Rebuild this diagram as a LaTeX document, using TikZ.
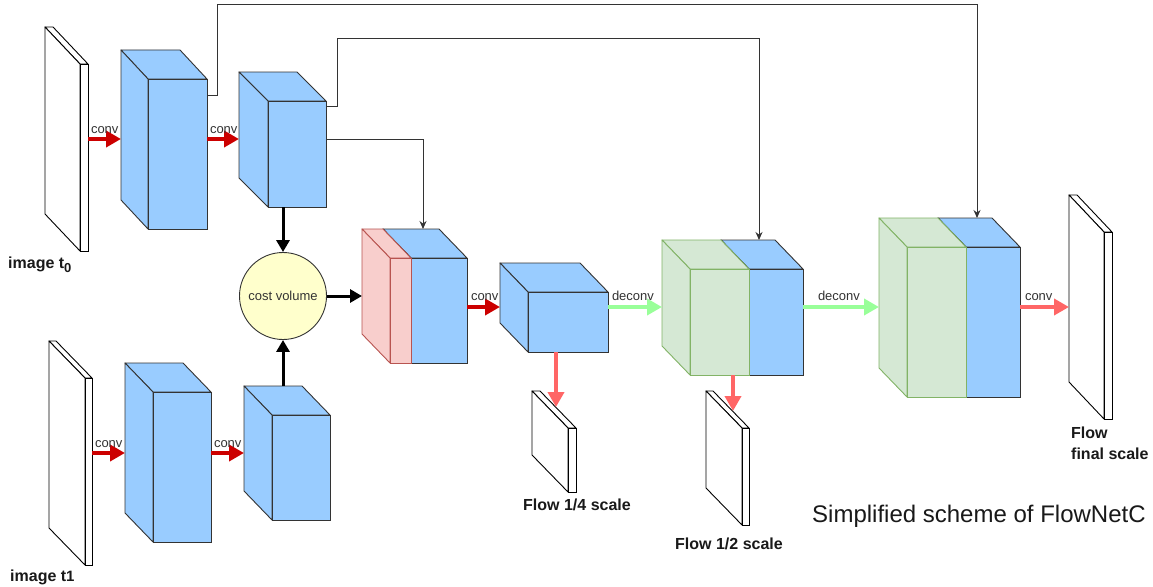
\documentclass[tikz,border=0pt]{standalone}
\usepackage{fontspec}
\setmainfont{Liberation Sans}
\usetikzlibrary{arrows.meta,fit,calc}
\definecolor{blueF}{HTML}{99CCFF}
\definecolor{redF}{HTML}{F8CECC}
\definecolor{redD}{HTML}{B85450}
\definecolor{greenF}{HTML}{D5E8D4}
\definecolor{greenD}{HTML}{82B366}
\definecolor{yellowF}{HTML}{FFFFCC}
\definecolor{convdark}{HTML}{CC0000}
\definecolor{convlight}{HTML}{FF6666}
\definecolor{deconvC}{HTML}{99FF99}
\definecolor{edgeC}{HTML}{333333}
\tikzset{
  bluebox/.style={fill=blueF, draw=edgeC, line width=0.9pt},
  redbox/.style={fill=redF, draw=redD, line width=0.9pt},
  greenbox/.style={fill=greenF, draw=greenD, line width=0.9pt},
  plate/.style={fill=white, draw=black, line width=0.9pt},
  convA/.style={draw=convdark, line width=4pt, -{Triangle[length=15pt,width=16pt]}},
  convB/.style={draw=convlight, line width=4pt, -{Triangle[length=15pt,width=16pt]}},
  deconvA/.style={draw=deconvC, line width=4pt, -{Triangle[length=15pt,width=16pt]}},
  thickA/.style={draw=black, line width=3pt, -{Triangle[length=12pt,width=13pt]}},
  skipA/.style={draw=edgeC, line width=1pt, -{Stealth[length=8pt,width=7pt]}},
  lbl/.style={font=\fontsize{13}{15}\selectfont, text=edgeC, inner sep=0pt, anchor=base west},
  big/.style={font=\bfseries\fontsize{16}{21}\selectfont, text=black!90, inner sep=0pt},
}
% #1 name, #2 style, #3 x1, #4 y1, #5 x2, #6 y2 (front face), #7 dx, #8 dy (depth)
\newcommand\slab[8]{%
  \coordinate (#1-tl) at (#3-#7,#4-#8);
  \coordinate (#1-tr) at (#5-#7,#4-#8);
  \filldraw[#2, line join=round] (#3-#7,#4-#8) -- (#5-#7,#4-#8) -- (#5,#4) -- (#3,#4) -- cycle;
  \filldraw[#2, line join=round] (#3-#7,#4-#8) -- (#3,#4) -- (#3,#6) -- (#3-#7,#6-#8) -- cycle;
  \node[#2, fit={(#3,#4) (#5,#6)}, inner sep=0pt, outer sep=0pt] (#1) {};
}
\begin{document}
\begin{tikzpicture}[x=1pt,y=-1pt]
\fill[white] (0,0) rectangle (1153,586);
\useasboundingbox (0,0) rectangle (1153,586);

% skip connection targets
\coordinate (Fin) at (977,218);
\coordinate (Din) at (759,240);
\coordinate (Cin) at (423,229);

% input plates
\slab{P0}{plate}{80}{64}{88}{251}{35}{37}
\slab{P1}{plate}{85}{378}{92}{565}{36}{37}

% encoder blocks
\slab{A1}{bluebox}{148}{79}{207}{229}{27}{29}
\slab{A2}{bluebox}{268}{101}{326}{207}{29}{29}
\slab{B1}{bluebox}{153}{392}{211}{542}{28}{29}
\slab{B2}{bluebox}{272}{415}{330}{520}{28}{29}

% correlation block
\slab{Cb}{bluebox}{411}{258}{467}{363}{28}{29}
\slab{Cr}{redbox}{390}{258}{411}{363}{28}{29}

% bottleneck
\slab{E}{bluebox}{528}{292}{608}{352}{28}{29}

% decoder blocks
\slab{Db}{bluebox}{749}{269}{803}{375}{28}{29}
\slab{Dg}{greenbox}{690}{269}{749}{375}{28}{29}
\slab{Fb}{bluebox}{966}{247}{1020}{397}{28}{29}
\slab{Fg}{greenbox}{907}{247}{966}{397}{28}{29}

% output plates
\slab{Pq}{plate}{568}{428}{576}{492}{36}{37}
\slab{Ph}{plate}{742}{428}{749}{525}{36}{37}
\slab{Pf}{plate}{1104}{232}{1112}{419}{35}{37}

% cost volume
\node[circle, minimum size=87pt, inner sep=0pt, fill=yellowF, draw=edgeC, line width=0.9pt,
      font=\fontsize{13}{15}\selectfont, text=edgeC] (cv) at (283,296) {cost volume};

% skip connections
\coordinate (s1) at ([yshift=-16pt]A1.north east);
\draw[skipA] (s1) -- ++(10,0) -- ++(0,-90) -| (Fin);
\coordinate (s2) at ([yshift=-5pt]A2.north east);
\draw[skipA] (s2) -- ++(11,0) -- ++(0,-67) -| (Din);
\coordinate (s3) at ([yshift=-38pt]A2.north east);
\draw[skipA] (s3) -| (Cin);

% conv arrows, top stream
\coordinate (c1) at ([yshift=18.5pt]P0.east);
\draw[convA] (c1) -- (c1 -| A1-tl) node[lbl, pos=0, xshift=1pt, yshift=6pt] (l1) {conv};
\coordinate (c2) at ([yshift=15pt]A1.east);
\draw[convA] (c2) -- (c2 -| A2-tl) node[lbl, pos=0, xshift=1pt, yshift=6pt] (l2) {conv};
% conv arrows, bottom stream
\coordinate (c3) at ([yshift=18.5pt]P1.east);
\draw[convA] (c3) -- (c3 -| B1-tl) node[lbl, pos=0, xshift=1pt, yshift=6pt] (l3) {conv};
\coordinate (c4) at ([yshift=14pt]B1.east);
\draw[convA] (c4) -- (c4 -| B2-tl) node[lbl, pos=0, xshift=1pt, yshift=6pt] (l4) {conv};

% into / out of cost volume
\draw[thickA] (A2.south -| cv) -- (cv.north);
\draw[thickA] (B2-tl -| cv) -- (cv.south);
\draw[thickA] (cv.east) -- (cv.east -| Cr-tl);

% C -> E
\coordinate (c5) at ([yshift=3.5pt]Cb.east);
\draw[convA] (c5) -- (c5 -| E-tl) node[lbl, pos=0, xshift=2pt, yshift=7pt] (l5) {conv};
% E -> D
\coordinate (c6) at ([yshift=15pt]E.east);
\draw[deconvA] (c6) -- (c6 -| Dg-tl) node[lbl, pos=0, xshift=2pt, yshift=7pt] (l6) {deconv};
% D -> F
\coordinate (c7) at ([yshift=15pt]Db.east);
\draw[deconvA] (c7) -- (c7 -| Fg-tl) node[lbl, pos=0, xshift=13pt, yshift=7pt] (l7) {deconv};
% F -> final flow
\coordinate (c8) at ([yshift=15pt]Fb.east);
\draw[convB] (c8) -- (c8 -| Pf-tl) node[lbl, pos=0, xshift=3pt, yshift=7pt] (l8) {conv};

% flow predictions
\coordinate (q1) at ([xshift=-12pt]E.south);
\coordinate (q2) at (556,407);
\draw[convB] (q1) -- (q2);
\coordinate (h1) at ([xshift=13.5pt]Dg.south);
\coordinate (h2) at (733,411);
\draw[convB] (h1) -- (h2);

% labels
\node[big, anchor=base west] (t0) at (8,268) {image t\raisebox{-4pt}{\fontsize{13}{15}\selectfont 0}};
\node[big, anchor=base west] (t1) at (10,581) {image t{\fontsize{15}{18}\selectfont 1}};
\node[big] (fq) at (577,505) {Flow 1/4 scale};
\node[big] (fh) at (729,544) {Flow 1/2 scale};
\node[big, anchor=base west] (ff1) at (1071,438) {Flow};
\node[big, anchor=base west] (ff2) at (1071,459) {final scale};
\node[font=\fontsize{24}{28}\selectfont, text=black!90, inner sep=0pt, anchor=base west] (title) at (812,522) {Simplified scheme of FlowNetC};
\end{tikzpicture}
\end{document}
